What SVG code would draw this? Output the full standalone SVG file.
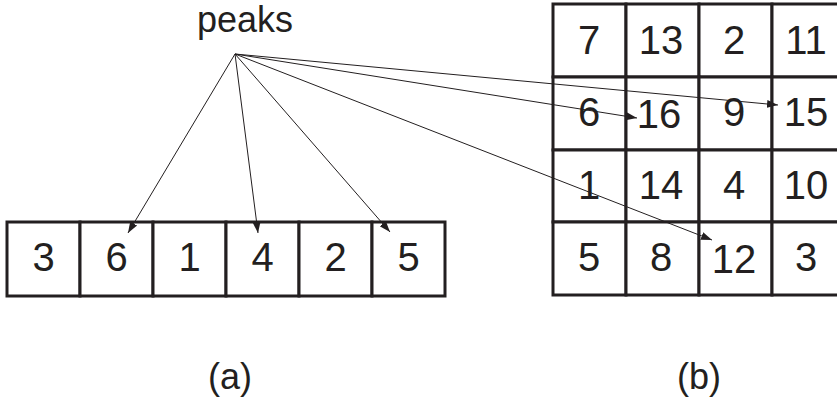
<svg xmlns="http://www.w3.org/2000/svg" width="837" height="401" viewBox="0 0 837 401">
<style>
.cell{fill:#fff;stroke:#231f20;stroke-width:3}
.num{font-family:"Liberation Sans",Arial,sans-serif;font-size:40px;fill:#231f20;text-anchor:middle}
.lbl{font-family:"Liberation Sans",Arial,sans-serif;font-size:36px;fill:#231f20}
.arr{stroke:#231f20;stroke-width:1;fill:none;marker-end:url(#ah)}
</style>
<defs>
<marker id="ah" markerUnits="userSpaceOnUse" markerWidth="12" markerHeight="10" viewBox="0 0 12 10" refX="11" refY="5" orient="auto">
<path d="M0,1 L11,5 L0,9 Z" fill="#231f20"/>
</marker>
</defs>
<rect width="837" height="401" fill="#fff"/>
<g id="row-a">
<g id="a1"><rect class="cell" x="7" y="222" width="73" height="74"/><text class="num" x="43.5" y="271">3</text></g>
<g id="a2"><rect class="cell" x="80" y="222" width="73" height="74"/><text class="num" x="116.5" y="271">6</text></g>
<g id="a3"><rect class="cell" x="153" y="222" width="73" height="74"/><text class="num" x="189.5" y="271">1</text></g>
<g id="a4"><rect class="cell" x="226" y="222" width="73" height="74"/><text class="num" x="262.5" y="271">4</text></g>
<g id="a5"><rect class="cell" x="299" y="222" width="73" height="74"/><text class="num" x="335.5" y="271">2</text></g>
<g id="a6"><rect class="cell" x="372" y="222" width="73" height="74"/><text class="num" x="408.5" y="271">5</text></g>
</g>
<g id="grid-b">
<g id="b11"><rect class="cell" x="553" y="4" width="73" height="73"/><text class="num" x="589" y="54">7</text></g>
<g id="b12"><rect class="cell" x="626" y="4" width="73" height="73"/><text class="num" x="661" y="54">13</text></g>
<g id="b13"><rect class="cell" x="699" y="4" width="73" height="73"/><text class="num" x="734" y="54">2</text></g>
<g id="b14"><rect class="cell" x="772" y="4" width="73" height="73"/><text class="num" x="806" y="54">11</text></g>
<g id="b21"><rect class="cell" x="553" y="77" width="73" height="73"/><text class="num" x="589" y="126">6</text></g>
<g id="b22"><rect class="cell" x="626" y="77" width="73" height="73"/><text class="num" x="659" y="128">16</text></g>
<g id="b23"><rect class="cell" x="699" y="77" width="73" height="73"/><text class="num" x="734" y="126">9</text></g>
<g id="b24"><rect class="cell" x="772" y="77" width="73" height="73"/><text class="num" x="806" y="126">15</text></g>
<g id="b31"><rect class="cell" x="553" y="150" width="73" height="72"/><text class="num" x="589" y="199">1</text></g>
<g id="b32"><rect class="cell" x="626" y="150" width="73" height="72"/><text class="num" x="661" y="199">14</text></g>
<g id="b33"><rect class="cell" x="699" y="150" width="73" height="72"/><text class="num" x="734" y="199">4</text></g>
<g id="b34"><rect class="cell" x="772" y="150" width="73" height="72"/><text class="num" x="806" y="199">10</text></g>
<g id="b41"><rect class="cell" x="553" y="222" width="73" height="73"/><text class="num" x="589" y="271">5</text></g>
<g id="b42"><rect class="cell" x="626" y="222" width="73" height="73"/><text class="num" x="661" y="271">8</text></g>
<g id="b43"><rect class="cell" x="699" y="222" width="73" height="73"/><text class="num" x="734" y="273">12</text></g>
<g id="b44"><rect class="cell" x="772" y="222" width="73" height="73"/><text class="num" x="806" y="271">3</text></g>
</g>
<g id="peaks"><text class="lbl" x="245" y="32" text-anchor="middle">peaks</text></g>
<g id="connectors">
<line class="arr" x1="235" y1="54" x2="128" y2="233"/>
<line class="arr" x1="235" y1="54" x2="258" y2="233"/>
<line class="arr" x1="235" y1="54" x2="390" y2="232"/>
<line class="arr" x1="235" y1="54" x2="637" y2="118"/>
<line class="arr" x1="235" y1="54" x2="778" y2="105"/>
<line class="arr" x1="235" y1="54" x2="712" y2="240"/>
</g>
<g id="caption-a"><text class="lbl" x="230" y="389" text-anchor="middle">(a)</text></g>
<g id="caption-b"><text class="lbl" x="699" y="389" text-anchor="middle">(b)</text></g>
</svg>
